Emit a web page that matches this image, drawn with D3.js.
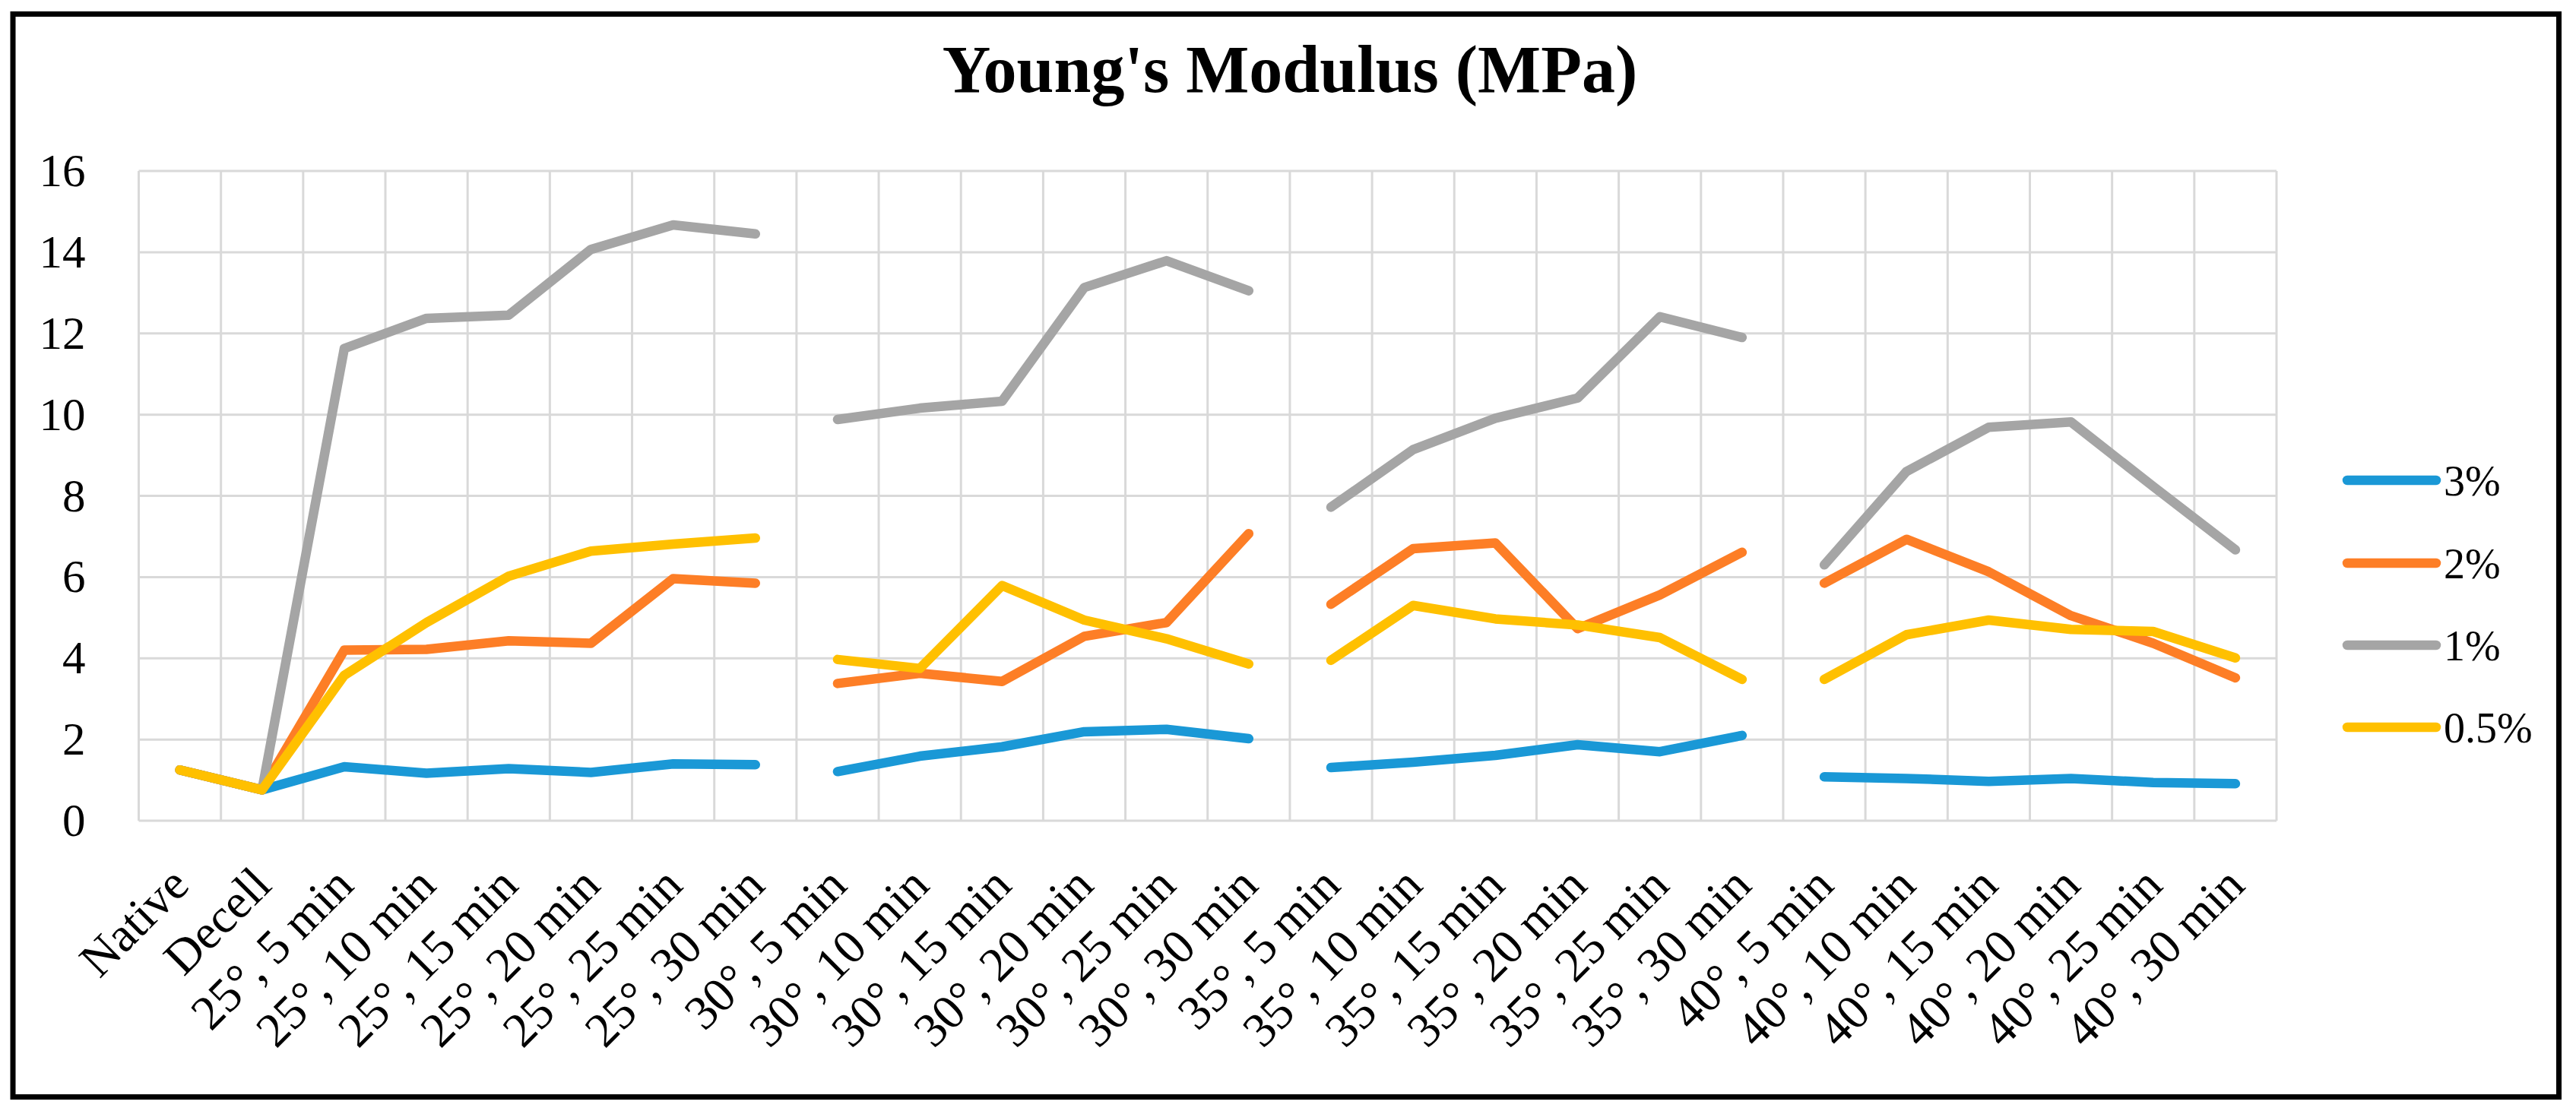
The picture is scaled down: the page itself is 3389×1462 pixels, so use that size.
<!DOCTYPE html>
<html>
<head>
<meta charset="utf-8">
<script src="https://cdn.jsdelivr.net/npm/d3@7/dist/d3.min.js"></script>
<style>
  html, body { margin: 0; padding: 0; background: #fff; }
  svg { display: block; }
  text { font-family: "Liberation Serif", "DejaVu Serif", serif; fill: #000; }
</style>
</head>
<body>
<svg id="chart" width="3389" height="1462"></svg>
<script>
// ---- data ----
const categories = [
  "Native", "Decell",
  "25°, 5 min", "25°, 10 min", "25°, 15 min", "25°, 20 min", "25°, 25 min", "25°, 30 min",
  "30°, 5 min", "30°, 10 min", "30°, 15 min", "30°, 20 min", "30°, 25 min", "30°, 30 min",
  "35°, 5 min", "35°, 10 min", "35°, 15 min", "35°, 20 min", "35°, 25 min", "35°, 30 min",
  "40°, 5 min", "40°, 10 min", "40°, 15 min", "40°, 20 min", "40°, 25 min", "40°, 30 min"
];
// index where each separate line segment begins (lines are broken between temperature groups)
const segmentStarts = [0, 8, 14, 20];

const seriesNames = ["3%", "2%", "1%", "0.5%"];
const values3 = [1.25, 0.76, 1.33, 1.17, 1.28, 1.19, 1.40, 1.38,
                 1.21, 1.59, 1.82, 2.19, 2.25, 2.02,
                 1.31, 1.44, 1.61, 1.87, 1.70, 2.10,
                 1.08, 1.04, 0.97, 1.04, 0.94, 0.91];
const values2 = [1.25, 0.76, 4.20, 4.22, 4.43, 4.37, 5.96, 5.85,
                 3.38, 3.63, 3.43, 4.54, 4.88, 7.07,
                 5.33, 6.70, 6.84, 4.73, 5.56, 6.61,
                 5.85, 6.93, 6.13, 5.05, 4.37, 3.52];
const values1 = [1.25, 0.76, 11.63, 12.37, 12.45, 14.07, 14.67, 14.45,
                 9.88, 10.16, 10.33, 13.13, 13.79, 13.05,
                 7.72, 9.14, 9.91, 10.41, 12.41, 11.90,
                 6.30, 8.60, 9.69, 9.82, 8.23, 6.67];
const values05 = [1.25, 0.76, 3.58, 4.88, 6.02, 6.64, 6.81, 6.96,
                  3.97, 3.75, 5.79, 4.94, 4.48, 3.86,
                  3.95, 5.30, 4.97, 4.82, 4.51, 3.48,
                  3.48, 4.58, 4.94, 4.71, 4.66, 4.01];
const yTicks = [0, 2, 4, 6, 8, 10, 12, 14, 16];
const titleText = "Young's Modulus (MPa)";

// ---- layout / style ----
const colors = ["#1a98d6", "#fd7e26", "#a5a5a5", "#ffc000"];
const plot = { left: 182.5, right: 2995, top: 225, bottom: 1080 };

const svg = d3.select("#chart");

// frame
svg.append("rect")
  .attr("x", 17).attr("y", 18.5)
  .attr("width", 3366.5 - 17).attr("height", 1443.5 - 18.5)
  .attr("fill", "#fff").attr("stroke", "#000").attr("stroke-width", 7);

// title
svg.append("text")
  .attr("x", 1697).attr("y", 121)
  .attr("text-anchor", "middle")
  .attr("font-size", 88).attr("font-weight", "bold")
  .text(titleText);

// scales
const x = d3.scaleBand().domain(categories).range([plot.left, plot.right]).padding(0);
const y = d3.scaleLinear().domain([0, 16]).range([plot.bottom, plot.top]);

// gridlines
const grid = svg.append("g").attr("stroke", "#d9d9d9").attr("stroke-width", 3);
grid.selectAll("line.h").data(yTicks).join("line")
  .attr("class", "h")
  .attr("x1", plot.left).attr("x2", plot.right)
  .attr("y1", d => y(d)).attr("y2", d => y(d));
const bounds = categories.map(c => x(c)).concat([plot.right]);
grid.selectAll("line.v").data(bounds).join("line")
  .attr("class", "v")
  .attr("x1", d => d).attr("x2", d => d)
  .attr("y1", plot.top).attr("y2", plot.bottom);

// y axis
const yAxis = svg.append("g")
  .attr("transform", `translate(${plot.left},0)`)
  .call(d3.axisLeft(y).tickValues(yTicks).tickSize(0).tickPadding(70).tickFormat(d3.format("d")));
yAxis.select(".domain").remove();
yAxis.selectAll("text")
  .attr("font-size", 61)
  .attr("font-family", "Liberation Serif, DejaVu Serif, serif")
  .attr("fill", "#000");

// x axis
const xAxis = svg.append("g")
  .attr("transform", `translate(0,${plot.bottom})`)
  .call(d3.axisBottom(x).tickSize(0));
xAxis.select(".domain").remove();
xAxis.selectAll("text")
  .attr("font-size", 64)
  .attr("font-family", "Liberation Serif, DejaVu Serif, serif")
  .attr("fill", "#000")
  .attr("y", 0).attr("dy", null)
  .attr("text-anchor", "end")
  .attr("transform", "translate(15,88) rotate(-45)");

// lines
const allSeries = [values3, values2, values1, values05];
const line = d3.line()
  .x(d => x(categories[d.i]) + x.bandwidth() / 2)
  .y(d => y(d.v));

allSeries.forEach((vals, si) => {
  const segs = segmentStarts.map((s, k) => {
    const e = k + 1 < segmentStarts.length ? segmentStarts[k + 1] : vals.length;
    return d3.range(s, e).map(i => ({ i, v: vals[i] }));
  });
  svg.append("g").selectAll("path").data(segs).join("path")
    .attr("d", line)
    .attr("fill", "none")
    .attr("stroke", colors[si])
    .attr("stroke-width", 12.5)
    .attr("stroke-linecap", "round")
    .attr("stroke-linejoin", "round");
});

// legend
const legendY = [632, 741, 849, 957];
const legend = svg.append("g");
seriesNames.forEach((name, i) => {
  legend.append("line")
    .attr("x1", 3088).attr("x2", 3205)
    .attr("y1", legendY[i]).attr("y2", legendY[i])
    .attr("stroke", colors[i]).attr("stroke-width", 12.5)
    .attr("stroke-linecap", "round");
  legend.append("text")
    .attr("x", 3215).attr("y", legendY[i]).attr("dy", "0.35em")
    .attr("font-size", 56)
    .text(name);
});
</script>
</body>
</html>
